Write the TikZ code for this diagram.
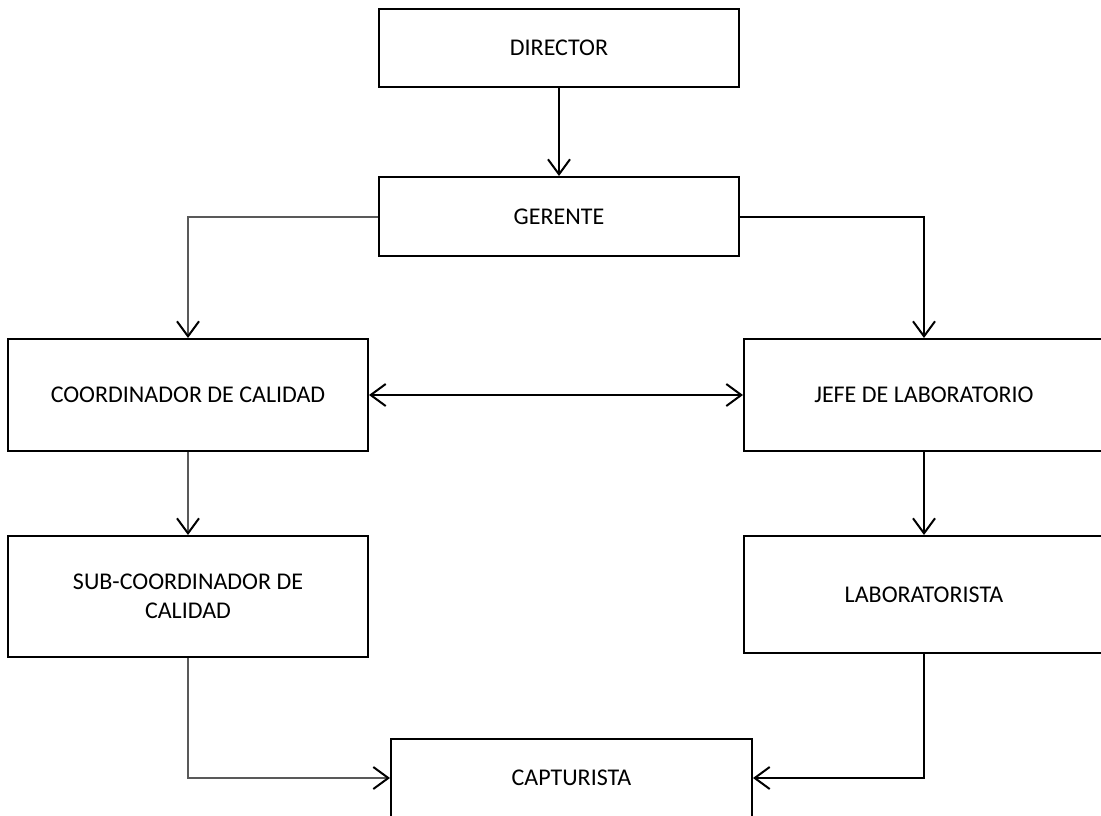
\documentclass[tikz,border=0pt]{standalone}
\usepackage{fontspec}
\setmainfont{Carlito}
\usetikzlibrary{arrows.meta}
\begin{document}
\begin{tikzpicture}[x=1pt,y=1pt,
  box/.style={draw=black, line width=2pt, fill=white, inner sep=0pt, align=center,
    font=\fontsize{24}{29}\selectfont},
  conn/.style={line width=2pt, black, -{Straight Barb[length=15pt,width=22pt,line width=2pt,color=black]}},
  conng/.style={conn, draw=black!65},
  both/.style={line width=2pt, black, {Straight Barb[length=15pt,width=22pt,line width=2pt]}-{Straight Barb[length=15pt,width=22pt,line width=2pt]}}
]
\clip (0,0) rectangle (1101,-815);
\fill[white] (0,0) rectangle (1101,-815);
\node[box, minimum width=360pt, minimum height=78pt] (dir) at (559,-48) {DIRECTOR};
\node[box, minimum width=360pt, minimum height=79pt] (ger) at (559,-216.5) {GERENTE};
\node[box, minimum width=360pt, minimum height=112pt] (coord) at (188,-395) {COORDINADOR DE CALIDAD};
\node[box, minimum width=360pt, minimum height=112pt] (jefe) at (924,-395) {JEFE DE LABORATORIO};
\node[box, minimum width=360pt, minimum height=121pt] (sub) at (188,-596.5) {SUB-COORDINADOR DE\\CALIDAD};
\node[box, minimum width=360pt, minimum height=117pt] (lab) at (924,-594.5) {LABORATORISTA};
\node[box, minimum width=361pt, minimum height=78pt] (cap) at (571.5,-778) {CAPTURISTA};

\draw[conn] (dir) -- (ger);
\draw[conng] (ger.west) -| (coord.north);
\draw[conn] (ger.east) -| (jefe.north);
\draw[both] (coord.east) -- (jefe.west);
\draw[conng] (coord) -- (sub);
\draw[conn] (jefe) -- (lab);
\draw[conng] (sub.south) |- (cap.west);
\draw[conn] (lab.south) |- (cap.east);
\end{tikzpicture}
\end{document}
